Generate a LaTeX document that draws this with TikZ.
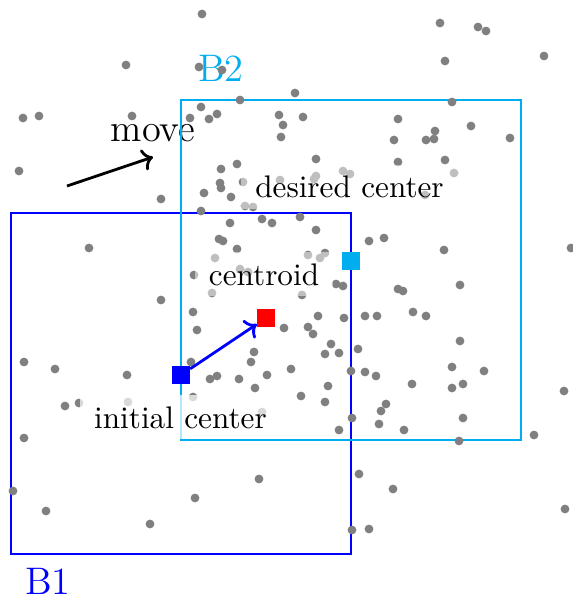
\documentclass[tikz,border=0pt]{standalone}
\usepackage{graphicx}
\usetikzlibrary{arrows.meta}
\definecolor{bcyan}{RGB}{0,174,239}
\begin{document}
\begin{tikzpicture}[x=1pt,y=-1pt,
  gdot/.style={fill=gray},
  boxline/.style={line width=2.9pt},
  lab/.style={fill=white, fill opacity=0.5, text opacity=1, inner xsep=14pt, inner ysep=11pt, anchor=base},
  biglab/.style={inner sep=0pt, anchor=base},
  marker/.style={minimum size=18pt, inner sep=0pt, draw=none},
  arr/.style={line width=2.8pt, -{To[scale=1.35]}}
]
\useasboundingbox (0,0) rectangle (572,601);

% large texts
\node[biglab, text=bcyan] (b2) at (221,82) {\scalebox{3.2}{\large B2}};
\node[biglab, text=blue] (b1) at (48,594) {\scalebox{3.2}{\large B1}};
\node[biglab] (mv) at (153,142) {\scalebox{3.2}{\large move}};

% boxes
\draw[boxline, blue] (11,213) rectangle (351,554);
\draw[boxline, bcyan] (181,100) rectangle (521,440);

% points
\foreach \p in {
(202,14),(440,23),(478,27),(486,31),(445,61),(544,56),(126,65),(199,67),(222,70),(295,93),(240,100),(452,102),
(201,107),(217,114),(190,118),(209,119),(23,118),(39,116),(132,116),(279,115),(283,125),(281,137),(303,117),
(398,119),(435,131),(426,140),(434,139),(471,126),(510,138),(394,140),(316,159),(398,162),(445,160),
(19,171),(161,199),(237,164),(221,169),(220,183),(221,188),(204,193),(231,197),(243,182),(280,180),(245,206),
(253,207),(201,211),(343,171),(350,174),(316,176),(314,179),(454,173),(425,195),(300,217),(230,223),(262,219),
(272,223),(316,230),
(89,248),(219,239),(223,241),(237,249),(215,258),(194,275),(240,269),(248,272),(212,293),(369,241),(384,238),
(444,250),(571,248),(308,255),(320,258),(325,253),(336,284),(343,286),(302,295),(398,289),(403,291),(460,285),
(161,300),
(193,312),(197,330),(284,328),(318,316),(344,318),(365,316),(377,316),(413,312),(426,316),(308,327),(313,334),
(331,344),(325,354),(339,353),(358,349),(460,341),(254,352),(251,362),
(24,362),(55,369),(127,375),(191,362),(210,379),(217,376),(239,379),(255,388),(267,375),(291,369),(351,371),
(365,372),(376,376),(452,367),(484,371),(328,386),(412,384),(452,388),(463,384),(301,396),(325,402),(564,391),
(386,404),(381,411),(65,406),(79,403),(128,402),(193,397),(262,412),(352,418),(379,424),(463,418),
(339,430),(404,430),(459,441),(534,435),(24,438),(13,491),(46,511),(150,524),(195,498),(259,479),(359,474),
(393,489),(565,509),(352,530),(369,529)}
  \fill[gdot] \p circle[radius=4.4pt];

% labels
\node[lab] (ldes) at (349.5,198) {\scalebox{3.12}{desired center}};
\node[lab] (lcen) at (264,285) {\scalebox{3.12}{centroid}};
\node[lab, fill opacity=0.7] (lini) at (180.5,428) {\scalebox{3.12}{initial center}};

% markers
\node[marker, fill=blue] (init) at (181,375) {};
\node[marker, fill=red] (cent) at (266,318) {};
\node[marker, fill=bcyan] (des) at (351,261) {};

% arrows
\draw[arr, blue] (init) -- (cent);
\coordinate (m1) at (67,186);
\coordinate (m2) at (153,157);
\draw[arr] (m1) -- (m2);
\end{tikzpicture}
\end{document}
